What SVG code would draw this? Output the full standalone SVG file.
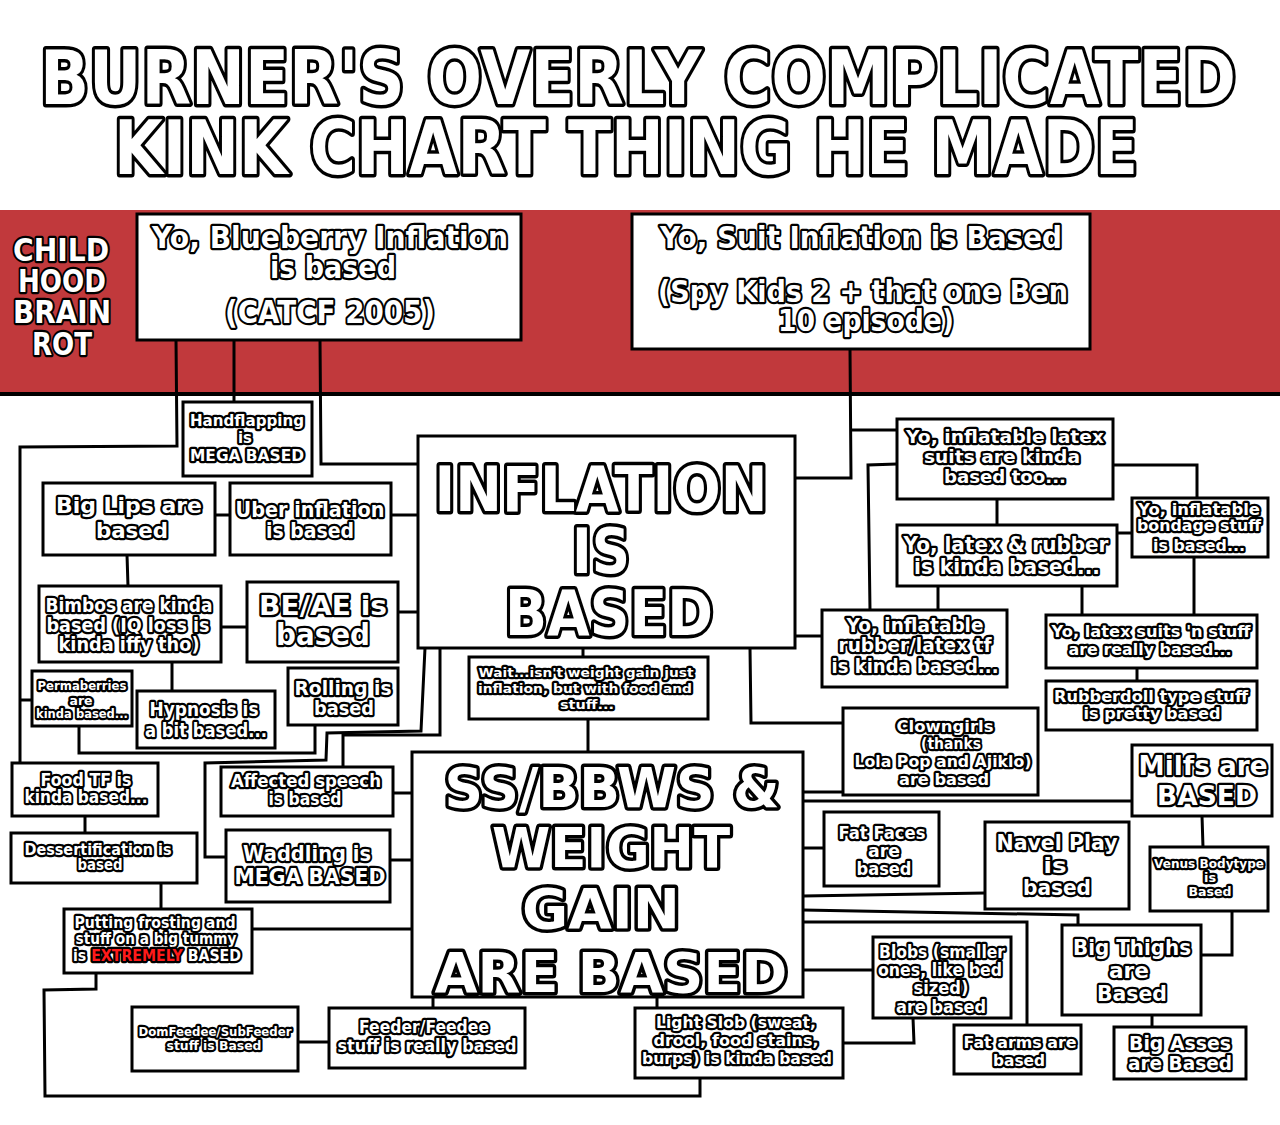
<svg xmlns="http://www.w3.org/2000/svg" width="1280" height="1125" viewBox="0 0 1280 1125">
<style>
.box{fill:#fff;stroke:#000;stroke-width:3}
.t{font-family:"DejaVu Sans",Roboto,sans-serif;font-weight:bold;fill:#fff;stroke:#000;stroke-width:4.5;stroke-linejoin:round;paint-order:stroke;text-anchor:middle}
.b{stroke-width:7}
.red{fill:#ff1a1a}
#connectors polyline{fill:none;stroke:#000;stroke-width:3}
</style>
<rect x="0" y="0" width="1280" height="1125" fill="#fff"/>
<g id="title">
<text class="t b" x="638" y="104" font-size="74" textLength="1196" lengthAdjust="spacingAndGlyphs">BURNER'S OVERLY COMPLICATED</text>
<text class="t b" x="626" y="174" font-size="74" textLength="1024" lengthAdjust="spacingAndGlyphs">KINK CHART THING HE MADE</text>
</g>
<g id="band">
<rect x="0" y="210" width="1280" height="184" fill="#c1393c"/>
<line x1="0" y1="394" x2="1280" y2="394" stroke="#000" stroke-width="4"/>
</g>
<g id="connectors">
<polyline points="176,340 177,446 20,447 20,763"/>
<polyline points="20,700 32,700"/>
<polyline points="234,340 234,402"/>
<polyline points="320,340 321,464 418,464"/>
<polyline points="850,349 851,478 795,478"/>
<polyline points="851,430 897,430"/>
<polyline points="215,515 230,515"/>
<polyline points="391,515 418,515"/>
<polyline points="127,555 128,586"/>
<polyline points="221,627 247,627"/>
<polyline points="398,612 418,612"/>
<polyline points="172,662 172,691"/>
<polyline points="79,726 79,753 315,753 315,725"/>
<polyline points="425,648 421,731 327,733 326,760 205,763 205,857 226,857"/>
<polyline points="440,648 440,735 343,735 343,767"/>
<polyline points="393,793 412,793"/>
<polyline points="390,860 412,860"/>
<polyline points="252,929 412,929"/>
<polyline points="85,816 85,833"/>
<polyline points="161,883 161,909"/>
<polyline points="96,973 96,989 44,990 45,1096 700,1096 700,1078"/>
<polyline points="298,1042 329,1042"/>
<polyline points="433,997 433,1008"/>
<polyline points="657,997 657,1008"/>
<polyline points="913,1018 914,1043 843,1043"/>
<polyline points="583,648 583,657"/>
<polyline points="588,719 588,752"/>
<polyline points="750,648 751,723 843,723"/>
<polyline points="795,636 822,636"/>
<polyline points="897,464 868,465 870,610"/>
<polyline points="1113,465 1197,465 1197,498"/>
<polyline points="997,499 997,525"/>
<polyline points="1117,533 1132,533"/>
<polyline points="938,586 938,610"/>
<polyline points="1082,586 1082,615"/>
<polyline points="1194,557 1194,615"/>
<polyline points="1137,668 1137,681"/>
<polyline points="803,792 843,792"/>
<polyline points="803,801 1132,801"/>
<polyline points="803,848 824,848"/>
<polyline points="803,896 985,893"/>
<polyline points="803,910 1078,915 1078,925"/>
<polyline points="803,922 1027,922 1027,1025"/>
<polyline points="803,970 873,970"/>
<polyline points="1202,816 1203,847"/>
<polyline points="1232,911 1232,955 1201,955"/>
<polyline points="1152,1015 1152,1027"/>
</g>
<g id="childhood">
<text class="t" font-size="32" x="61" y="261" textLength="96" lengthAdjust="spacingAndGlyphs">CHILD</text>
<text class="t" font-size="32" x="62" y="292" textLength="88" lengthAdjust="spacingAndGlyphs">HOOD</text>
<text class="t" font-size="32" x="62" y="323" textLength="98" lengthAdjust="spacingAndGlyphs">BRAIN</text>
<text class="t" font-size="32" x="62" y="355" textLength="60" lengthAdjust="spacingAndGlyphs">ROT</text>
</g>
<g id="blueberry">
<rect class="box" x="137" y="214" width="384" height="126"/>
<text class="t" font-size="30" x="330" y="248" textLength="356" lengthAdjust="spacingAndGlyphs">Yo, Blueberry Inflation</text>
<text class="t" font-size="30" x="333" y="278" textLength="126" lengthAdjust="spacingAndGlyphs">is based</text>
<text class="t" font-size="32" x="330" y="323" textLength="210" lengthAdjust="spacingAndGlyphs">(CATCF 2005)</text>
</g>
<g id="suit">
<rect class="box" x="632" y="214" width="458" height="135"/>
<text class="t" font-size="30" x="861" y="248" textLength="402" lengthAdjust="spacingAndGlyphs">Yo, Suit Inflation is Based</text>
<text class="t" font-size="30" x="863" y="302" textLength="410" lengthAdjust="spacingAndGlyphs">(Spy Kids 2 + that one Ben</text>
<text class="t" font-size="30" x="866" y="331" textLength="176" lengthAdjust="spacingAndGlyphs">10 episode)</text>
</g>
<g id="handflapping">
<rect class="box" x="183" y="402" width="129" height="74"/>
<text class="t" font-size="15" x="247" y="426" textLength="114" lengthAdjust="spacingAndGlyphs">Handflapping</text>
<text class="t" font-size="15" x="245" y="443" textLength="14" lengthAdjust="spacingAndGlyphs">is</text>
<text class="t" font-size="15" x="247" y="461" textLength="114" lengthAdjust="spacingAndGlyphs">MEGA BASED</text>
</g>
<g id="biglips">
<rect class="box" x="43" y="483" width="172" height="72"/>
<text class="t" font-size="22" x="129" y="513" textLength="146" lengthAdjust="spacingAndGlyphs">Big Lips are</text>
<text class="t" font-size="22" x="132" y="538" textLength="72" lengthAdjust="spacingAndGlyphs">based</text>
</g>
<g id="uber">
<rect class="box" x="230" y="483" width="161" height="72"/>
<text class="t" font-size="21" x="310" y="517" textLength="149" lengthAdjust="spacingAndGlyphs">Uber inflation</text>
<text class="t" font-size="21" x="310" y="538" textLength="88" lengthAdjust="spacingAndGlyphs">is based</text>
</g>
<g id="bimbos">
<rect class="box" x="39" y="586" width="182" height="76"/>
<text class="t" font-size="19" x="129" y="612" textLength="167" lengthAdjust="spacingAndGlyphs">Bimbos are kinda</text>
<text class="t" font-size="19" x="128" y="632" textLength="163" lengthAdjust="spacingAndGlyphs">based (IQ loss is</text>
<text class="t" font-size="19" x="129" y="651" textLength="141" lengthAdjust="spacingAndGlyphs">kinda iffy tho)</text>
</g>
<g id="beae">
<rect class="box" x="247" y="582" width="151" height="80"/>
<text class="t" font-size="27" x="323" y="615" textLength="128" lengthAdjust="spacingAndGlyphs">BE/AE is</text>
<text class="t" font-size="30" x="323" y="645" textLength="94" lengthAdjust="spacingAndGlyphs">based</text>
</g>
<g id="permaberries">
<rect class="box" x="32" y="671" width="100" height="55"/>
<text class="t" font-size="12" stroke-width="3.5" x="82" y="690" textLength="89" lengthAdjust="spacingAndGlyphs">Permaberries</text>
<text class="t" font-size="12" stroke-width="3.5" x="81" y="705" textLength="23" lengthAdjust="spacingAndGlyphs">are</text>
<text class="t" font-size="12" stroke-width="3.5" x="82" y="718" textLength="92" lengthAdjust="spacingAndGlyphs">kinda based...</text>
</g>
<g id="hypnosis">
<rect class="box" x="137" y="691" width="138" height="57"/>
<text class="t" font-size="19" x="204" y="716" textLength="109" lengthAdjust="spacingAndGlyphs">Hypnosis is</text>
<text class="t" font-size="19" x="206" y="737" textLength="122" lengthAdjust="spacingAndGlyphs">a bit based...</text>
</g>
<g id="rolling">
<rect class="box" x="288" y="668" width="110" height="57"/>
<text class="t" font-size="19" x="343" y="695" textLength="97" lengthAdjust="spacingAndGlyphs">Rolling is</text>
<text class="t" font-size="19" x="344" y="715" textLength="60" lengthAdjust="spacingAndGlyphs">based</text>
</g>
<g id="foodtf">
<rect class="box" x="12" y="763" width="146" height="53"/>
<text class="t" font-size="17" x="86" y="786" textLength="91" lengthAdjust="spacingAndGlyphs">Food TF is</text>
<text class="t" font-size="17" x="86" y="803" textLength="123" lengthAdjust="spacingAndGlyphs">kinda based...</text>
</g>
<g id="dessertification">
<rect class="box" x="11" y="833" width="186" height="50"/>
<text class="t" font-size="15" x="98" y="855" textLength="147" lengthAdjust="spacingAndGlyphs">Dessertification is</text>
<text class="t" font-size="15" x="100" y="870" textLength="45" lengthAdjust="spacingAndGlyphs">based</text>
</g>
<g id="frosting">
<rect class="box" x="64" y="909" width="188" height="64"/>
<text class="t" font-size="15" x="155" y="928" textLength="161" lengthAdjust="spacingAndGlyphs">Putting frosting and</text>
<text class="t" font-size="15" x="156" y="944" textLength="161" lengthAdjust="spacingAndGlyphs">stuff on a big tummy</text>
<text class="t" font-size="15" x="157" y="961" textLength="168" lengthAdjust="spacingAndGlyphs">is <tspan class="red">EXTREMELY</tspan> BASED</text>
</g>
<g id="affected">
<rect class="box" x="221" y="767" width="172" height="49"/>
<text class="t" font-size="17" x="306" y="787" textLength="150" lengthAdjust="spacingAndGlyphs">Affected speech</text>
<text class="t" font-size="17" x="305" y="805" textLength="73" lengthAdjust="spacingAndGlyphs">is based</text>
</g>
<g id="waddling">
<rect class="box" x="226" y="830" width="164" height="72"/>
<text class="t" font-size="22" x="307" y="861" textLength="128" lengthAdjust="spacingAndGlyphs">Waddling is</text>
<text class="t" font-size="22" x="310" y="884" textLength="151" lengthAdjust="spacingAndGlyphs">MEGA BASED</text>
</g>
<g id="domfeedee">
<rect class="box" x="132" y="1007" width="166" height="64"/>
<text class="t" font-size="13" stroke-width="3.5" x="215" y="1036" textLength="153" lengthAdjust="spacingAndGlyphs">DomFeedee/SubFeeder</text>
<text class="t" font-size="13" stroke-width="3.5" x="214" y="1050" textLength="95" lengthAdjust="spacingAndGlyphs">stuff is Based</text>
</g>
<g id="feeder">
<rect class="box" x="329" y="1008" width="196" height="60"/>
<text class="t" font-size="17" x="424" y="1033" textLength="130" lengthAdjust="spacingAndGlyphs">Feeder/Feedee</text>
<text class="t" font-size="17" x="427" y="1052" textLength="179" lengthAdjust="spacingAndGlyphs">stuff is really based</text>
</g>
<g id="inflation">
<rect class="box" x="418" y="436" width="377" height="212"/>
<text class="t b" font-size="62" x="601" y="511" textLength="333" lengthAdjust="spacingAndGlyphs">INFLATION</text>
<text class="t b" font-size="62" x="601" y="573" textLength="58" lengthAdjust="spacingAndGlyphs">IS</text>
<text class="t b" font-size="62" x="609" y="635" textLength="208" lengthAdjust="spacingAndGlyphs">BASED</text>
</g>
<g id="wait">
<rect class="box" x="469" y="657" width="239" height="62"/>
<text class="t" font-size="13" stroke-width="3.5" x="586" y="677" textLength="215" lengthAdjust="spacingAndGlyphs">Wait...isn't weight gain just</text>
<text class="t" font-size="13" stroke-width="3.5" x="585" y="693" textLength="214" lengthAdjust="spacingAndGlyphs">inflation, but with food and</text>
<text class="t" font-size="13" stroke-width="3.5" x="587" y="709" textLength="54" lengthAdjust="spacingAndGlyphs">stuff...</text>
</g>
<g id="ssbbw">
<rect class="box" x="412" y="752" width="391" height="245"/>
<text class="t b" font-size="56" x="612" y="807" textLength="335" lengthAdjust="spacingAndGlyphs">SS/BBWS &amp;</text>
<text class="t b" font-size="56" x="611" y="867" textLength="238" lengthAdjust="spacingAndGlyphs">WEIGHT</text>
<text class="t b" font-size="56" x="601" y="928" textLength="158" lengthAdjust="spacingAndGlyphs">GAIN</text>
<text class="t b" font-size="56" x="611" y="992" textLength="353" lengthAdjust="spacingAndGlyphs">ARE BASED</text>
</g>
<g id="lightslob">
<rect class="box" x="635" y="1008" width="208" height="70"/>
<text class="t" font-size="16" x="736" y="1028" textLength="160" lengthAdjust="spacingAndGlyphs">Light Slob (sweat,</text>
<text class="t" font-size="16" x="736" y="1046" textLength="165" lengthAdjust="spacingAndGlyphs">drool, food stains,</text>
<text class="t" font-size="16" x="737" y="1064" textLength="190" lengthAdjust="spacingAndGlyphs">burps) is kinda based</text>
</g>
<g id="latexsuits">
<rect class="box" x="897" y="419" width="216" height="80"/>
<text class="t" font-size="18" x="1005" y="443" textLength="198" lengthAdjust="spacingAndGlyphs">Yo, inflatable latex</text>
<text class="t" font-size="18" x="1002" y="463" textLength="156" lengthAdjust="spacingAndGlyphs">suits are kinda</text>
<text class="t" font-size="18" x="1005" y="483" textLength="122" lengthAdjust="spacingAndGlyphs">based too...</text>
</g>
<g id="latexrubber">
<rect class="box" x="897" y="525" width="220" height="61"/>
<text class="t" font-size="21" x="1006" y="552" textLength="205" lengthAdjust="spacingAndGlyphs">Yo, latex &amp; rubber</text>
<text class="t" font-size="21" x="1007" y="574" textLength="186" lengthAdjust="spacingAndGlyphs">is kinda based...</text>
</g>
<g id="bondage">
<rect class="box" x="1132" y="498" width="136" height="59"/>
<text class="t" font-size="16" x="1199" y="515" textLength="122" lengthAdjust="spacingAndGlyphs">Yo, inflatable</text>
<text class="t" font-size="16" x="1199" y="531" textLength="124" lengthAdjust="spacingAndGlyphs">bondage stuff</text>
<text class="t" font-size="16" x="1199" y="551" textLength="92" lengthAdjust="spacingAndGlyphs">is based...</text>
</g>
<g id="rubbertf">
<rect class="box" x="822" y="610" width="185" height="77"/>
<text class="t" font-size="19" x="915" y="632" textLength="137" lengthAdjust="spacingAndGlyphs">Yo, inflatable</text>
<text class="t" font-size="19" x="915" y="652" textLength="153" lengthAdjust="spacingAndGlyphs">rubber/latex tf</text>
<text class="t" font-size="19" x="915" y="673" textLength="167" lengthAdjust="spacingAndGlyphs">is kinda based...</text>
</g>
<g id="latexstuff">
<rect class="box" x="1046" y="615" width="211" height="53"/>
<text class="t" font-size="16" x="1151" y="637" textLength="199" lengthAdjust="spacingAndGlyphs">Yo, latex suits 'n stuff</text>
<text class="t" font-size="16" x="1150" y="655" textLength="163" lengthAdjust="spacingAndGlyphs">are really based...</text>
</g>
<g id="rubberdoll">
<rect class="box" x="1046" y="681" width="211" height="49"/>
<text class="t" font-size="16" x="1151" y="702" textLength="194" lengthAdjust="spacingAndGlyphs">Rubberdoll type stuff</text>
<text class="t" font-size="16" x="1152" y="719" textLength="137" lengthAdjust="spacingAndGlyphs">is pretty based</text>
</g>
<g id="clowngirls">
<rect class="box" x="843" y="708" width="195" height="87"/>
<text class="t" font-size="16" x="945" y="732" textLength="97" lengthAdjust="spacingAndGlyphs">Clowngirls</text>
<text class="t" font-size="16" x="951" y="749" textLength="60" lengthAdjust="spacingAndGlyphs">(thanks</text>
<text class="t" font-size="16" x="943" y="767" textLength="177" lengthAdjust="spacingAndGlyphs">Lola Pop and Ajiklo)</text>
<text class="t" font-size="16" x="944" y="785" textLength="90" lengthAdjust="spacingAndGlyphs">are based</text>
</g>
<g id="milfs">
<rect class="box" x="1132" y="745" width="140" height="71"/>
<text class="t" font-size="27" x="1203" y="775" textLength="129" lengthAdjust="spacingAndGlyphs">Milfs are</text>
<text class="t" font-size="27" x="1207" y="805" textLength="100" lengthAdjust="spacingAndGlyphs">BASED</text>
</g>
<g id="venus">
<rect class="box" x="1150" y="847" width="118" height="64"/>
<text class="t" font-size="12" stroke-width="3.5" x="1209" y="868" textLength="110" lengthAdjust="spacingAndGlyphs">Venus Bodytype</text>
<text class="t" font-size="12" stroke-width="3.5" x="1210" y="882" textLength="12" lengthAdjust="spacingAndGlyphs">is</text>
<text class="t" font-size="12" stroke-width="3.5" x="1210" y="896" textLength="43" lengthAdjust="spacingAndGlyphs">Based</text>
</g>
<g id="navel">
<rect class="box" x="985" y="822" width="144" height="87"/>
<text class="t" font-size="21" x="1057" y="850" textLength="121" lengthAdjust="spacingAndGlyphs">Navel Play</text>
<text class="t" font-size="21" x="1055" y="873" textLength="23" lengthAdjust="spacingAndGlyphs">is</text>
<text class="t" font-size="21" x="1057" y="895" textLength="68" lengthAdjust="spacingAndGlyphs">based</text>
</g>
<g id="fatfaces">
<rect class="box" x="824" y="812" width="115" height="74"/>
<text class="t" font-size="17" x="882" y="839" textLength="87" lengthAdjust="spacingAndGlyphs">Fat Faces</text>
<text class="t" font-size="17" x="884" y="857" textLength="32" lengthAdjust="spacingAndGlyphs">are</text>
<text class="t" font-size="17" x="884" y="875" textLength="55" lengthAdjust="spacingAndGlyphs">based</text>
</g>
<g id="bigthighs">
<rect class="box" x="1062" y="925" width="139" height="90"/>
<text class="t" font-size="22" x="1132" y="955" textLength="118" lengthAdjust="spacingAndGlyphs">Big Thighs</text>
<text class="t" font-size="22" x="1129" y="978" textLength="40" lengthAdjust="spacingAndGlyphs">are</text>
<text class="t" font-size="22" x="1132" y="1001" textLength="70" lengthAdjust="spacingAndGlyphs">Based</text>
</g>
<g id="blobs">
<rect class="box" x="873" y="937" width="138" height="81"/>
<text class="t" font-size="17" x="942" y="958" textLength="126" lengthAdjust="spacingAndGlyphs">Blobs (smaller</text>
<text class="t" font-size="17" x="940" y="976" textLength="124" lengthAdjust="spacingAndGlyphs">ones, like bed</text>
<text class="t" font-size="17" x="941" y="994" textLength="55" lengthAdjust="spacingAndGlyphs">sized)</text>
<text class="t" font-size="17" x="941" y="1013" textLength="90" lengthAdjust="spacingAndGlyphs">are based</text>
</g>
<g id="fatarms">
<rect class="box" x="954" y="1025" width="127" height="49"/>
<text class="t" font-size="16" x="1020" y="1048" textLength="113" lengthAdjust="spacingAndGlyphs">Fat arms are</text>
<text class="t" font-size="16" x="1019" y="1066" textLength="52" lengthAdjust="spacingAndGlyphs">based</text>
</g>
<g id="bigasses">
<rect class="box" x="1114" y="1027" width="132" height="52"/>
<text class="t" font-size="19" x="1180" y="1050" textLength="102" lengthAdjust="spacingAndGlyphs">Big Asses</text>
<text class="t" font-size="19" x="1180" y="1070" textLength="104" lengthAdjust="spacingAndGlyphs">are Based</text>
</g>
</svg>
